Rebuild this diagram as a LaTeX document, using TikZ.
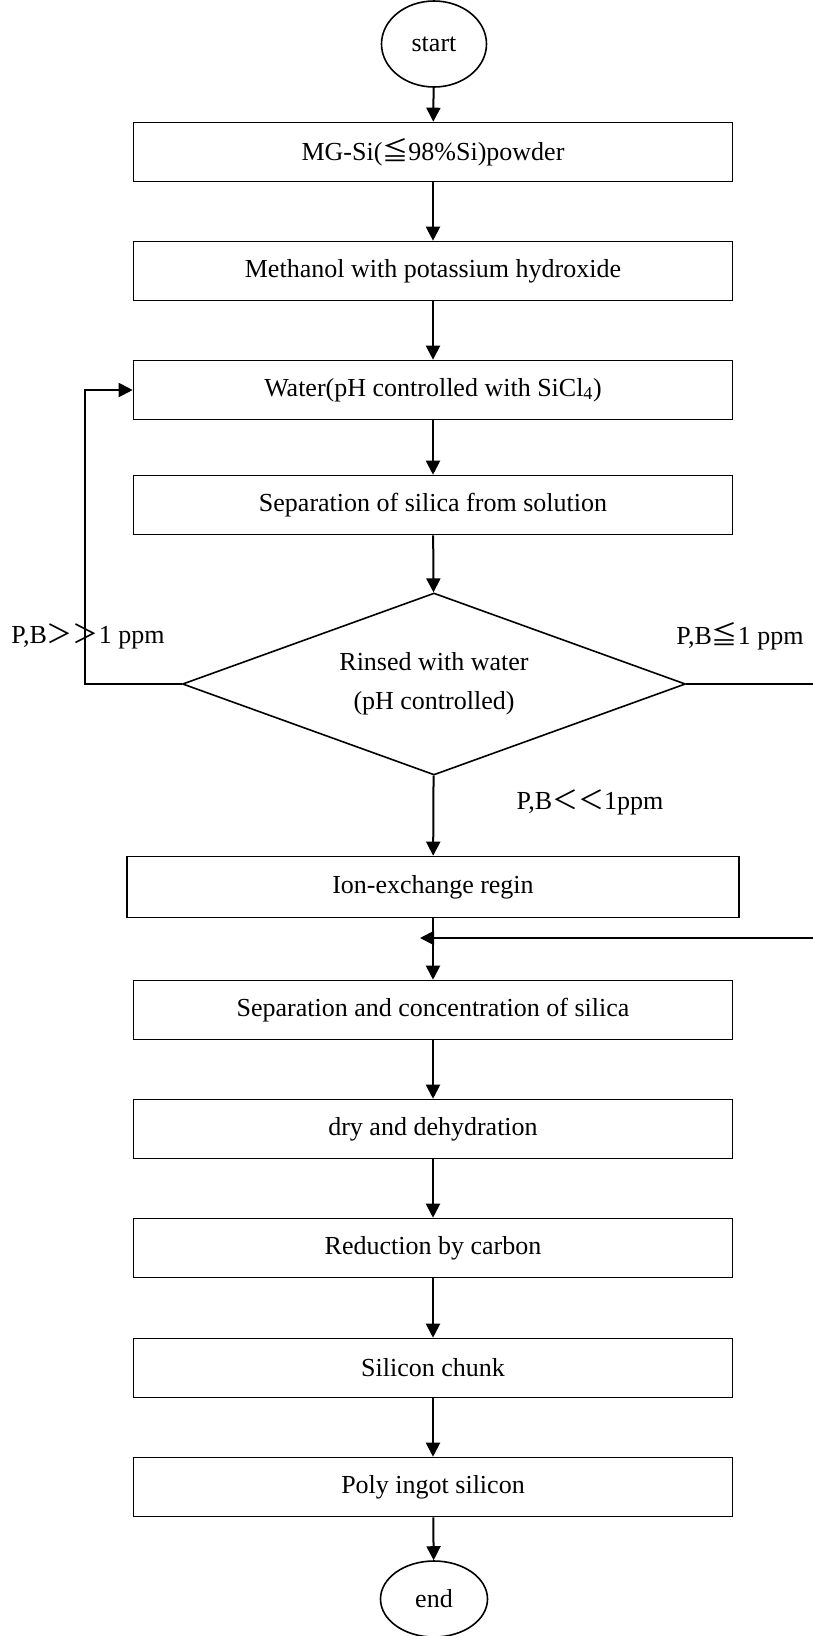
\documentclass[tikz,border=0pt]{standalone}
\usepackage{fontspec}
\setmainfont{Liberation Serif}
\newfontfamily\cjk{Noto Sans CJK SC}
\usetikzlibrary{shapes.geometric,arrows.meta}

\begin{document}
\begin{tikzpicture}[x=1pt,y=-1pt,>={Triangle[length=14pt,width=14pt]},
  every node/.style={font=\fontsize{26}{31}\selectfont},
  procbox/.style={draw,line width=1.6pt,minimum width=599pt,minimum height=59pt,inner sep=0pt},
  terminal/.style={draw,ellipse,line width=1.6pt,minimum width=105pt,minimum height=86pt,inner sep=0pt},
  decide/.style={draw,diamond,aspect=2.76,line width=1.6pt,minimum width=503pt,minimum height=182pt,inner sep=0pt,
    align=center,font=\fontsize{26}{39}\selectfont},
  flow/.style={->,line width=2pt}]
  % Page frame (pixel units, y pointing down).
  \useasboundingbox (0,0) rectangle (813,1636);
  \clip (0,0) rectangle (813,1636);
  % Start and the first steps.
  \node[terminal] (start) at (434,44) {start};
  \node[procbox] (mgsi) at (433,152) {MG-Si({\cjk ≦}98\%Si)powder};
  \node[procbox] (methanol) at (433,271) {Methanol with potassium hydroxide};
  \node[procbox] (water) at (433,390) {Water(pH controlled with SiCl\textsubscript{4})};
  \node[procbox] (sepsol) at (433,505) {Separation of silica from solution};
  % Decision.
  \node[decide] (rinse) at (434,684) {Rinsed with water\\(pH controlled)};
  % Purification and the rest of the line.
  \node[procbox,minimum width=612pt,minimum height=61pt] (ionex) at (433,887) {Ion-exchange regin};
  \node[procbox] (sepconc) at (433,1010) {Separation and concentration of silica};
  \node[procbox] (dry) at (433,1129) {dry and dehydration};
  \node[procbox] (reduce) at (433,1248) {Reduction by carbon};
  \node[procbox] (chunk) at (433,1368) {Silicon chunk};
  \node[procbox] (ingot) at (433,1487) {Poly ingot silicon};
  \node[terminal,minimum width=107pt,minimum height=76pt] (finish) at (434,1599) {end};
  % Branch labels.
  \node (hilabel) at (88,636) {P,B{\cjk ＞＞}1 ppm};
  \node (midlabel) at (740,636) {P,B{\cjk ≦}1 ppm};
  \node (lolabel) at (590,802) {P,B{\cjk ＜＜}1ppm};
  % Straight flow.
  \draw[flow] (start) -- (mgsi);
  \draw[flow] (mgsi) -- (methanol);
  \draw[flow] (methanol) -- (water);
  \draw[flow] (water) -- (sepsol);
  \draw[flow] (sepsol) -- (rinse);
  \draw[flow] (rinse) -- (ionex);
  \draw[flow] (ionex) -- (sepconc);
  \draw[flow] (sepconc) -- (dry);
  \draw[flow] (dry) -- (reduce);
  \draw[flow] (reduce) -- (chunk);
  \draw[flow] (chunk) -- (ingot);
  \draw[flow] (ingot) -- (finish);
  % Loop back to rinsing water.
  \draw[flow] (rinse.west) -- ++(-97,0) |- (water.west);
  % Bypass joining below the ion exchange.
  \coordinate (merge) at (420,938);
  \draw[flow] (rinse.east) -- ++(132,0) |- (merge);
\end{tikzpicture}
\end{document}
